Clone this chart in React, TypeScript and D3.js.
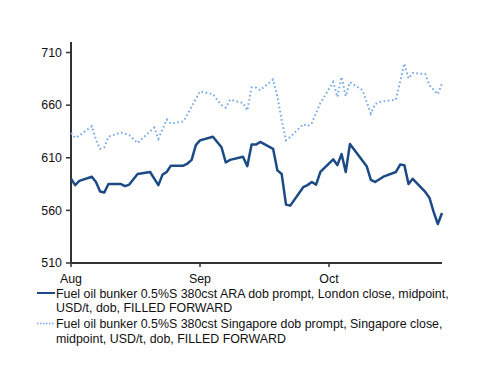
import React from "react";
import * as d3 from "d3";

const monthTicks = ["2018-08-01", "2018-09-01", "2018-10-01"];
const monthLabels = ["Aug", "Sep", "Oct"];
const yTicks = [510, 560, 610, 660, 710];

const araDates = [
  "2018-08-01", "2018-08-02", "2018-08-03", "2018-08-06", "2018-08-07", "2018-08-08", "2018-08-09",
  "2018-08-10", "2018-08-13", "2018-08-14", "2018-08-15", "2018-08-17", "2018-08-20", "2018-08-22",
  "2018-08-23", "2018-08-24", "2018-08-25", "2018-08-28", "2018-08-29", "2018-08-30", "2018-08-31",
  "2018-09-01", "2018-09-04", "2018-09-06", "2018-09-07", "2018-09-08", "2018-09-11", "2018-09-12",
  "2018-09-13", "2018-09-14", "2018-09-15", "2018-09-18", "2018-09-19", "2018-09-20", "2018-09-21",
  "2018-09-22", "2018-09-25", "2018-09-26", "2018-09-27", "2018-09-28", "2018-09-29", "2018-10-02",
  "2018-10-03", "2018-10-04", "2018-10-05", "2018-10-06", "2018-10-10", "2018-10-11", "2018-10-12",
  "2018-10-14", "2018-10-17", "2018-10-18", "2018-10-19", "2018-10-20", "2018-10-21", "2018-10-24",
  "2018-10-25", "2018-10-26", "2018-10-27", "2018-10-28"
];
const araValues = [
  590, 584, 588, 592, 587, 578, 577,
  585, 585, 583, 584.5, 594.5, 596.5, 584,
  594, 596.5, 602.5, 602.5, 604.5, 608, 622,
  626.5, 630, 620, 605.5, 608, 611, 602,
  622.5, 622.5, 625, 618.5, 598, 594.5, 565.5,
  564.5, 582, 584, 587, 584.5, 596.5, 608.5,
  603, 613.5, 596.5, 623, 602, 589, 587,
  592, 596.5, 603.5, 603, 585, 590, 577.5,
  572, 558.5, 547, 557.5
];

const sgDates = [
  "2018-08-01", "2018-08-02", "2018-08-03", "2018-08-06", "2018-08-07", "2018-08-08", "2018-08-09",
  "2018-08-10", "2018-08-13", "2018-08-15", "2018-08-17", "2018-08-19", "2018-08-21", "2018-08-22",
  "2018-08-24", "2018-08-25", "2018-08-28", "2018-09-01", "2018-09-04", "2018-09-06", "2018-09-07",
  "2018-09-08", "2018-09-11", "2018-09-12", "2018-09-13", "2018-09-14", "2018-09-15", "2018-09-18",
  "2018-09-19", "2018-09-20", "2018-09-21", "2018-09-22", "2018-09-25", "2018-09-26", "2018-09-27",
  "2018-09-29", "2018-10-02", "2018-10-03", "2018-10-04", "2018-10-05", "2018-10-06", "2018-10-09",
  "2018-10-11", "2018-10-12", "2018-10-13", "2018-10-17", "2018-10-19", "2018-10-20", "2018-10-21",
  "2018-10-24", "2018-10-25", "2018-10-27", "2018-10-28"
];
const sgValues = [
  633.5, 629, 631, 640, 627, 618.5, 620,
  630, 634, 631.5, 624, 631.5, 638.7, 628,
  646.3, 642.5, 644.4, 673, 670.4, 660, 657.7,
  665.3, 662, 655, 676.7, 676.7, 674.2, 684.3,
  668, 645.6, 626.6, 629.8, 641.8, 640, 643,
  662, 682, 667.8, 686.8, 668.5, 681.8, 674.2,
  652, 660.9, 663, 665.3, 699.5, 685.3, 690.6,
  689.4, 679, 670.4, 680.5
];

const legendAra = [
  "Fuel oil bunker 0.5%S 380cst ARA dob prompt, London close, midpoint,",
  "USD/t, dob, FILLED FORWARD",
];
const legendSg = [
  "Fuel oil bunker 0.5%S 380cst Singapore dob prompt, Singapore close,",
  "midpoint, USD/t, dob, FILLED FORWARD",
];

const parse = d3.timeParse("%Y-%m-%d");
const FONT = "'Liberation Sans', Arial, sans-serif";
const DARK = "#1c4a85";
const LIGHT = "#78a8e8";
const AXIS = "#333333";

export default function App() {
  const left = 71, right = 442, top = 42, bottom = 263;
  const x = d3
    .scaleTime()
    .domain([parse("2018-08-01")!, parse("2018-09-01")!, parse("2018-10-01")!, parse("2018-10-28")!])
    .range([left, 200, 329, right]);
  const y = d3.scaleLinear().domain([510, 720]).range([bottom, top]);

  const line = d3
    .line<[Date, number]>()
    .x((d) => x(d[0]))
    .y((d) => y(d[1]));

  const ara: [Date, number][] = araDates.map((d, i) => [parse(d)!, araValues[i]]);
  const sg: [Date, number][] = sgDates.map((d, i) => [parse(d)!, sgValues[i]]);

  return (
    <svg
      width={500}
      height={386}
      style={{ position: "absolute", left: 0, top: 0, background: "#fff" }}
      fontFamily={FONT}
    >
      <rect width={500} height={386} fill="#fff" />
      {/* y axis */}
      <line x1={left} x2={left} y1={top} y2={bottom} stroke={AXIS} strokeWidth={2} />
      {yTicks.map((t) => (
        <g key={t}>
          <line x1={left - 5} x2={left} y1={y(t)} y2={y(t)} stroke={AXIS} strokeWidth={1.5} />
          <text x={left - 9} y={y(t)} dy="0.35em" textAnchor="end" fontSize={12.4} fill="#111">
            {t}
          </text>
        </g>
      ))}
      {/* x axis */}
      <line x1={left} x2={right} y1={bottom} y2={bottom} stroke={AXIS} strokeWidth={2} />
      {monthTicks.map((m, i) => (
        <g key={m}>
          <line x1={x(parse(m)!)} x2={x(parse(m)!)} y1={bottom} y2={bottom + 4} stroke={AXIS} strokeWidth={1.5} />
          <text x={x(parse(m)!)} y={bottom + 20} textAnchor="middle" fontSize={12.4} fill="#111">
            {monthLabels[i]}
          </text>
        </g>
      ))}
      {/* series */}
      <path d={line(sg) || ""} fill="none" stroke={LIGHT} strokeWidth={2} strokeDasharray="1.6,2.6" />
      <path d={line(ara) || ""} fill="none" stroke={DARK} strokeWidth={2.5} strokeLinejoin="round" />
      {/* legend */}
      <line x1={37} x2={55} y1={293} y2={293} stroke={DARK} strokeWidth={2} />
      {legendAra.map((t, i) => (
        <text key={t} x={56} y={297.5 + i * 14.5} fontSize={12.4} fill="#111">
          {t}
        </text>
      ))}
      <line x1={37} x2={55} y1={323.5} y2={323.5} stroke={LIGHT} strokeWidth={1.5} strokeDasharray="1.5,1.5" />
      {legendSg.map((t, i) => (
        <text key={t} x={56} y={328 + i * 14.5} fontSize={12.4} fill="#111">
          {t}
        </text>
      ))}
    </svg>
  );
}
